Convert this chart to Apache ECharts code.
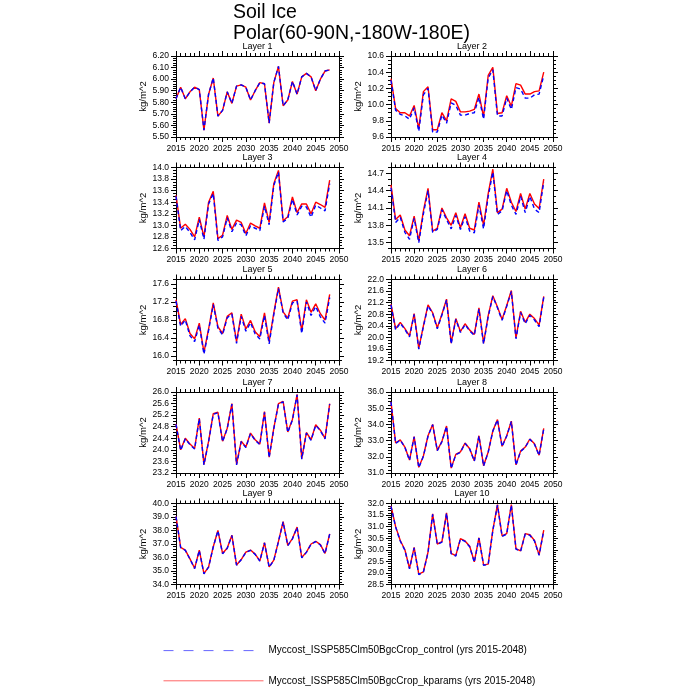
<!DOCTYPE html>
<html><head><meta charset="utf-8">
<script src="https://cdn.jsdelivr.net/npm/echarts@6/dist/echarts.min.js"></script>
<style>html,body{margin:0;padding:0;background:#fff}#c{width:700px;height:700px}</style>
</head><body><div id="c"></div>
<script>
const years = [2015,2016,2017,2018,2019,2020,2021,2022,2023,2024,2025,2026,2027,2028,2029,2030,2031,2032,2033,2034,2035,2036,2037,2038,2039,2040,2041,2042,2043,2044,2045,2046,2047,2048];

const kp1 = [5.83,5.93,5.83,5.89,5.93,5.91,5.56,5.87,6.01,5.68,5.73,5.89,5.79,5.94,5.95,5.93,5.82,5.90,5.97,5.96,5.62,5.97,6.11,5.77,5.82,5.98,5.87,6.02,6.05,6.02,5.90,6.00,6.07,6.08];
const ctl1 = [5.83,5.93,5.83,5.89,5.93,5.91,5.56,5.87,6.01,5.68,5.73,5.89,5.79,5.94,5.95,5.93,5.82,5.90,5.97,5.96,5.62,5.97,6.11,5.77,5.82,5.98,5.87,6.02,6.05,6.02,5.90,6.00,6.07,6.08];
const kp2 = [10.32,9.95,9.90,9.90,9.86,9.99,9.70,10.16,10.22,9.69,9.69,9.90,9.80,10.07,10.04,9.91,9.91,9.92,9.94,10.13,9.85,10.36,10.46,9.89,9.90,10.11,9.98,10.26,10.24,10.13,10.13,10.16,10.17,10.40];
const ctl2 = [10.30,9.93,9.88,9.86,9.82,9.96,9.67,10.12,10.20,9.66,9.66,9.87,9.77,10.02,9.99,9.87,9.87,9.89,9.90,10.09,9.82,10.33,10.43,9.86,9.86,10.08,9.94,10.21,10.19,10.08,10.08,10.12,10.13,10.36];
const kp3 = [13.52,12.95,13.02,12.93,12.80,13.14,12.80,13.40,13.59,12.77,12.83,13.17,12.93,13.09,13.05,12.86,13.04,12.99,12.95,13.39,13.05,13.72,13.95,13.08,13.15,13.49,13.22,13.37,13.37,13.20,13.40,13.36,13.31,13.78];
const ctl3 = [13.50,12.91,12.98,12.88,12.75,13.10,12.76,13.37,13.55,12.74,12.80,13.13,12.89,13.04,13.01,12.82,12.99,12.95,12.91,13.33,13.01,13.69,13.92,13.06,13.12,13.45,13.18,13.33,13.32,13.14,13.35,13.30,13.25,13.72];
const kp4 = [14.50,13.90,13.98,13.72,13.62,13.96,13.53,14.05,14.44,13.70,13.75,14.10,13.93,13.80,14.02,13.76,14.00,13.75,13.72,14.20,13.80,14.35,14.77,14.02,14.08,14.44,14.20,14.04,14.35,14.08,14.35,14.17,14.09,14.60];
const ctl4 = [14.45,13.85,13.94,13.68,13.56,13.92,13.50,14.00,14.40,13.68,13.73,14.07,13.90,13.74,13.97,13.73,13.95,13.70,13.67,14.15,13.74,14.30,14.72,13.99,14.05,14.40,14.15,13.99,14.30,14.02,14.30,14.08,14.02,14.55];
const kp5 = [17.25,16.70,16.83,16.50,16.38,16.73,16.08,16.60,17.18,16.65,16.50,16.88,16.96,16.32,16.93,16.60,16.79,16.54,16.43,16.96,16.32,16.96,17.53,16.98,16.84,17.22,17.25,16.56,17.25,16.97,17.16,16.94,16.80,17.37];
const ctl5 = [17.22,16.66,16.80,16.45,16.32,16.69,16.04,16.57,17.14,16.62,16.47,16.85,16.93,16.28,16.88,16.55,16.74,16.49,16.38,16.90,16.27,16.92,17.50,16.96,16.80,17.18,17.22,16.50,17.20,16.90,17.10,16.87,16.73,17.30];
const kp6 = [21.15,20.30,20.52,20.30,20.05,20.82,19.62,20.40,21.12,20.85,20.33,20.80,21.32,19.80,20.65,20.20,20.47,20.25,20.10,21.02,19.80,20.75,21.44,21.05,20.62,21.10,21.62,19.98,20.90,20.52,20.80,20.65,20.42,21.42];
const ctl6 = [21.12,20.26,20.49,20.27,20.02,20.79,19.59,20.37,21.09,20.82,20.30,20.77,21.29,19.77,20.62,20.17,20.44,20.22,20.07,20.98,19.77,20.72,21.41,21.02,20.59,21.07,21.59,19.95,20.86,20.47,20.76,20.60,20.37,21.38];
const kp7 = [24.90,24.00,24.40,24.20,24.05,25.10,23.50,24.30,25.25,25.30,24.30,24.75,25.60,23.50,24.30,24.10,24.58,24.35,24.20,25.32,23.75,24.75,25.60,25.68,24.62,25.05,25.92,23.70,24.60,24.35,24.87,24.68,24.40,25.60];
const ctl7 = [24.88,23.98,24.38,24.18,24.03,25.08,23.48,24.28,25.23,25.28,24.28,24.73,25.58,23.48,24.28,24.08,24.56,24.33,24.18,25.30,23.73,24.73,25.58,25.66,24.60,25.03,25.90,23.68,24.58,24.33,24.85,24.66,24.38,25.58];
const kp8 = [35.40,32.85,33.05,32.60,31.80,33.25,31.35,32.05,33.30,34.00,32.40,32.95,33.90,31.30,32.15,32.30,32.85,32.50,31.75,33.30,31.45,32.30,33.60,34.30,32.65,33.30,34.20,31.50,32.35,32.60,33.10,32.80,32.10,33.75];
const ctl8 = [35.38,32.83,33.03,32.58,31.78,33.23,31.33,32.03,33.28,33.98,32.38,32.93,33.88,31.28,32.13,32.28,32.83,32.48,31.73,33.28,31.43,32.28,33.58,34.28,32.63,33.28,34.18,31.48,32.33,32.58,33.08,32.78,32.08,33.73];
const kp9 = [39.05,36.75,36.55,35.90,35.20,36.55,34.80,35.30,36.80,38.00,36.30,36.70,37.65,35.45,35.85,36.40,36.55,36.25,35.75,37.10,35.30,35.80,37.20,38.65,36.90,37.40,38.25,36.00,36.40,37.00,37.20,36.95,36.30,37.75];
const ctl9 = [39.03,36.73,36.53,35.88,35.18,36.53,34.78,35.28,36.78,37.98,36.28,36.68,37.63,35.43,35.83,36.38,36.53,36.23,35.73,37.08,35.28,35.78,37.18,38.63,36.88,37.38,38.23,35.98,36.38,36.98,37.18,36.93,36.28,37.73];
const kp10 = [31.90,31.00,30.40,30.00,29.20,30.10,28.95,29.05,29.90,31.55,30.25,30.35,31.60,29.85,29.75,30.48,30.38,30.15,29.48,30.52,29.35,29.38,30.85,31.95,30.60,30.70,31.95,30.05,29.95,30.70,30.65,30.40,29.78,30.85];
const ctl10 = [31.88,30.98,30.38,29.98,29.18,30.08,28.93,29.03,29.88,31.53,30.23,30.33,31.58,29.83,29.73,30.46,30.36,30.13,29.46,30.50,29.33,29.36,30.83,31.93,30.58,30.68,31.93,30.03,29.93,30.68,30.63,30.38,29.76,30.83];

const yTicks1 = ['5.50','5.60','5.70','5.80','5.90','6.00','6.10','6.20'];
const yTicks2 = ['9.6','9.8','10.0','10.2','10.4','10.6'];
const yTicks3 = ['12.6','12.8','13.0','13.2','13.4','13.6','13.8','14.0'];
const yTicks4 = ['13.5','13.8','14.1','14.4','14.7'];
const yTicks5 = ['16.0','16.4','16.8','17.2','17.6'];
const yTicks6 = ['19.2','19.6','20.0','20.4','20.8','21.2','21.6','22.0'];
const yTicks7 = ['23.2','23.6','24.0','24.4','24.8','25.2','25.6','26.0'];
const yTicks8 = ['31.0','32.0','33.0','34.0','35.0','36.0'];
const yTicks9 = ['34.0','35.0','36.0','37.0','38.0','39.0','40.0'];
const yTicks10 = ['28.5','29.0','29.5','30.0','30.5','31.0','31.5','32.0'];
const yMins = [5.5, 9.6, 12.6, 13.4, 15.9, 19.2, 23.2, 31.0, 34.0, 28.5];
const yMaxs = [6.2, 10.6, 14.0, 14.8, 17.7, 22.0, 26.0, 36.0, 40.0, 32.0];
const yMinorSteps = [0.02, 0.05, 0.05, 0.1, 0.1, 0.1, 0.1, 0.2, 0.2, 0.1];
const xTickYears = [2015, 2020, 2025, 2030, 2035, 2040, 2045, 2050];
const layerNames = ['Layer 1','Layer 2','Layer 3','Layer 4','Layer 5','Layer 6','Layer 7','Layer 8','Layer 9','Layer 10'];
const ctlName = 'Myccost_ISSP585Clm50BgcCrop_control (yrs 2015-2048)';
const kpName = 'Myccost_ISSP585Clm50BgcCrop_kparams (yrs 2015-2048)';
const titleText = 'Soil Ice\nPolar(60-90N,-180W-180E)';
const yUnit = 'kg/m^2';

const kps = [kp1,kp2,kp3,kp4,kp5,kp6,kp7,kp8,kp9,kp10];
const ctls = [ctl1,ctl2,ctl3,ctl4,ctl5,ctl6,ctl7,ctl8,ctl9,ctl10];
const yTicks = [yTicks1,yTicks2,yTicks3,yTicks4,yTicks5,yTicks6,yTicks7,yTicks8,yTicks9,yTicks10];

const FONT = '"Liberation Sans", Arial, Helvetica, sans-serif';
const colLeft = [176, 391], colWidth = [163, 162];
const rowTop = [56, 167.5, 279.5, 392, 503.5], H = 81;
const LBL = 8.5;
const black = {color:'#000', width:1};

const grids = [], xAxes = [], yAxes = [], series = [], titles = [];
titles.push({text: titleText, left: 233, top: 2, padding: 0,
  textStyle: {fontSize: 19.5, fontWeight: 'normal', lineHeight: 21, fontFamily: FONT, color: '#000'}});

for (let i = 0; i < 10; i++) {
  const r = Math.floor(i / 2), c = i % 2;
  grids.push({left: colLeft[c], top: rowTop[r], width: colWidth[c], height: H, containLabel: false});
  titles.push({text: layerNames[i], left: colLeft[c] + colWidth[c] / 2, top: rowTop[r] - 14, textAlign: 'center', padding: 0,
    textStyle: {fontSize: 9, fontWeight: 'normal', fontFamily: FONT, color: '#000'}});
  const xi = xAxes.length;
  ['bottom', 'top'].forEach((pos, k) => {
    xAxes.push({type: 'value', gridIndex: i, position: pos, min: 2015, max: 2050, interval: 5,
      axisLine: {show: true, onZero: false, lineStyle: black},
      axisTick: {show: true, inside: false, length: 5, lineStyle: black},
      minorTick: {show: true, splitNumber: 5, length: 3, lineStyle: black},
      splitLine: {show: false}, minorSplitLine: {show: false},
      axisLabel: {show: k === 0, margin: 7, color: '#000', fontSize: LBL, fontFamily: FONT, formatter: v => String(v),
        customValues: xTickYears}
    });
  });
  const yi = yAxes.length;
  const ticks = yTicks[i].map(Number);
  const lblMap = {};
  yTicks[i].forEach(s => { lblMap[Number(s).toFixed(4)] = s; });
  ['left', 'right'].forEach((pos, k) => {
    yAxes.push({type: 'value', gridIndex: i, position: pos, min: yMins[i], max: yMaxs[i],
      axisLine: {show: true, onZero: false, lineStyle: black},
      axisTick: {show: true, inside: false, length: 5, lineStyle: black, customValues: ticks},
      splitLine: {show: false},
      axisLabel: {show: k === 0, margin: 7, color: '#000', fontSize: LBL, fontFamily: FONT, customValues: ticks,
        formatter: v => lblMap[Number(v).toFixed(4)] || String(v)},
      name: k === 0 ? yUnit : '', nameLocation: 'middle', nameGap: 27, nameRotate: 90,
      nameTextStyle: {fontSize: 9.5, fontFamily: FONT, color: '#000'}
    });
    yAxes.push({type: 'value', gridIndex: i, position: pos, min: yMins[i], max: yMaxs[i], interval: yMinorSteps[i],
      axisLine: {show: false}, axisTick: {show: true, inside: false, length: 3, lineStyle: black},
      splitLine: {show: false}, axisLabel: {show: false}
    });
  });
  series.push({name: kpName, type: 'line', xAxisIndex: xi, yAxisIndex: yi, symbol: 'none', animation: false,
    data: years.map((y, j) => [y, kps[i][j]]), lineStyle: {color: '#ff0000', width: 1.4}, itemStyle: {color: '#ff0000'}});
  series.push({name: ctlName, type: 'line', xAxisIndex: xi, yAxisIndex: yi, symbol: 'none', animation: false,
    data: years.map((y, j) => [y, ctls[i][j]]), lineStyle: {color: '#0000ff', width: 1.4, type: [4, 3]}, itemStyle: {color: '#0000ff'}});
}

const chart = echarts.init(document.getElementById('c'), null, {renderer: 'canvas'});
chart.setOption({
  backgroundColor: '#fff',
  animation: false,
  title: titles,
  grid: grids, xAxis: xAxes, yAxis: yAxes, series: series,
  legend: {orient: 'vertical', left: 163, top: 645, padding: 0, itemWidth: 100, itemHeight: 14, itemGap: 19,
    itemStyle: {opacity: 0},
    data: [{name: ctlName, lineStyle: {type: [10, 10], color: '#6666ff', width: 1}}, {name: kpName, lineStyle: {color: '#ff6666', width: 1}}],
    textStyle: {fontSize: 10, fontFamily: FONT, color: '#000'}, selectedMode: false}
});
</script></body></html>
